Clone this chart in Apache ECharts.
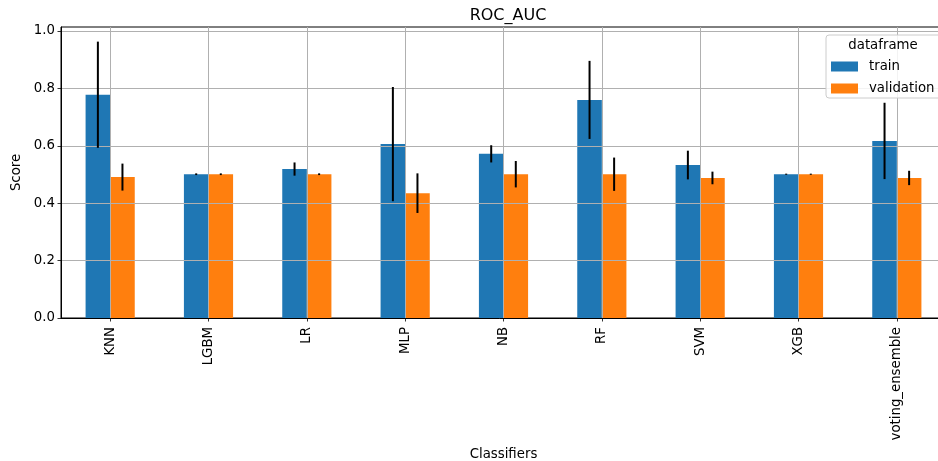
<!DOCTYPE html>
<html>
<head>
<meta charset="utf-8">
<script src="https://cdn.jsdelivr.net/npm/echarts@6/dist/echarts.min.js"></script>
<style>
html,body{margin:0;padding:0;background:#fff;}
#chart{width:938px;height:461px;}
</style>
</head>
<body>
<div id="chart"></div>
<script>
const categories = ['KNN','LGBM','LR','MLP','NB','RF','SVM','XGB','voting_ensemble'];
const trainMean = [0.778, 0.501, 0.519, 0.606, 0.572, 0.760, 0.533, 0.501, 0.617];
const trainErr  = [0.185, 0.003, 0.023, 0.199, 0.030, 0.136, 0.050, 0.002, 0.133];
const valMean   = [0.491, 0.501, 0.501, 0.435, 0.501, 0.501, 0.488, 0.501, 0.488];
const valErr    = [0.047, 0.003, 0.003, 0.069, 0.046, 0.058, 0.022, 0.002, 0.025];
const yTicks    = [0, 0.2, 0.4, 0.6, 0.8, 1.0];

const FONT = 'DejaVu Sans';
const chart = echarts.init(document.getElementById('chart'), null, {renderer:'canvas'});

function errSeries(name, means, errs, sign) {
  return {
    type: 'custom',
    name: name + '_err',
    z: 6,
    silent: true,
    data: means.map((m, i) => [i, m - errs[i], m + errs[i]]),
    encode: {x: 0, y: [1, 2]},
    renderItem: function (params, api) {
      const i = api.value(0);
      const lo = api.coord([i, api.value(1)]);
      const hi = api.coord([i, api.value(2)]);
      const band = api.size([1, 0])[0];
      const x = lo[0] + sign * band * 0.125;
      return {
        type: 'line',
        shape: {x1: x, y1: lo[1], x2: x, y2: hi[1]},
        style: {stroke: '#000', lineWidth: 2}
      };
    }
  };
}

const option = {
  animation: false,
  backgroundColor: '#fff',
  textStyle: {fontFamily: FONT},
  title: {
    text: 'ROC_AUC',
    left: 503, top: 3, textAlign: 'center',
    textStyle: {fontFamily: FONT, fontSize: 16, fontWeight: 'normal', color: '#000'}
  },
  grid: {
    left: 61, top: 27, right: -8, bottom: 461 - 318,
    outerBoundsMode: 'none',
    containLabel: false,
    show: true, borderColor: '#000', borderWidth: 1, backgroundColor: 'transparent'
  },
  legend: {
    data: ['train', 'validation'],
    orient: 'vertical',
    left: 831, top: 60,
    padding: 0,
    icon: 'rect',
    itemWidth: 27, itemHeight: 10, itemGap: 9,
    z: 12,
    textStyle: {fontFamily: FONT, fontSize: 13.3, color: '#000', lineHeight: 10, padding: [0, 0, 0, 6]},
    selectedMode: false
  },
  graphic: [
    {type: 'rect', z: 10, shape: {x: 826, y: 35, width: 140, height: 63, r: 3},
     style: {fill: 'rgba(255,255,255,0.85)', stroke: '#cccccc', lineWidth: 1}},
    {type: 'text', z: 11, x: 883, y: 46,
     style: {text: 'dataframe', fontFamily: FONT, fontSize: 13.3, fill: '#000', align: 'center', verticalAlign: 'middle'}}
  ],
  xAxis: {
    type: 'category',
    data: categories,
    z: 4,
    name: 'Classifiers',
    nameLocation: 'middle',
    nameGap: 128,
    nameTextStyle: {fontFamily: FONT, fontSize: 13.3, color: '#000'},
    axisLine: {show: true, lineStyle: {color: '#000', width: 1}},
    axisTick: {show: true, alignWithLabel: true, length: 3.5, lineStyle: {color: '#000', width: 0.8}},
    axisLabel: {rotate: 90, margin: 9, fontFamily: FONT, fontSize: 13.3, color: '#000', interval: 0},
    splitLine: {show: true, alignWithLabel: true, interval: 0, lineStyle: {color: '#b0b0b0', width: 1}}
  },
  yAxis: {
    type: 'value',
    min: 0, max: 1.014,
    z: 4,
    name: 'Score',
    nameLocation: 'middle',
    nameGap: 38,
    nameRotate: 90,
    nameTextStyle: {fontFamily: FONT, fontSize: 13.3, color: '#000'},
    axisLine: {show: true, lineStyle: {color: '#000', width: 1}},
    axisTick: {show: true, length: 3.5, customValues: yTicks, lineStyle: {color: '#000', width: 0.8}},
    axisLabel: {customValues: yTicks, margin: 6, fontFamily: FONT, fontSize: 13.3, color: '#000',
                formatter: v => v.toFixed(1)},
    splitLine: {show: true, lineStyle: {color: '#b0b0b0', width: 1}}
  },
  series: [
    {name: 'train', type: 'bar', data: trainMean, barWidth: '25%', barGap: '0%',
     itemStyle: {color: '#1f77b4'}, z: 2},
    {name: 'validation', type: 'bar', data: valMean, barWidth: '25%', barGap: '0%',
     itemStyle: {color: '#ff7f0e'}, z: 2},
    errSeries('train', trainMean, trainErr, -1),
    errSeries('validation', valMean, valErr, 1)
  ]
};
chart.setOption(option);
</script>
</body>
</html>
